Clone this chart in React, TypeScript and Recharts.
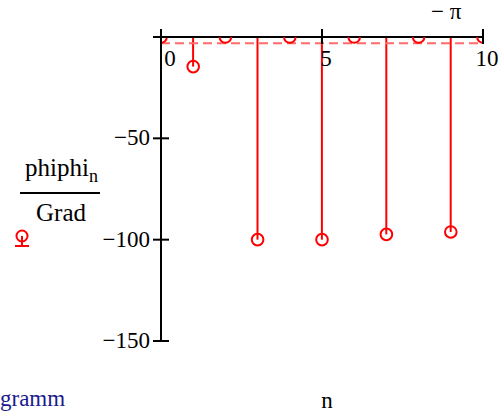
import {
  ComposedChart,
  Bar,
  Scatter,
  XAxis,
  YAxis,
  ReferenceLine,
} from "recharts";

const nValues = [0, 1, 2, 3, 4, 5, 6, 7, 8, 9, 10];
const phiDeg = [0, -14.6, 0, -100, 0, -100, 0, -97.4, 0, -96.2, 0];
const xTicks = [0, 5, 10];
const yTicks = [-150, -100, -50, 0];
const refValue = -Math.PI;
const refLabel = "− π";

const data = nValues.map((n, i) => ({ n, phi: phiDeg[i] }));

const RED = "#ff0000";
const FONT = "'Liberation Serif', 'Times New Roman', serif";
const FS = 23;

function XTick(props: any) {
  const { x, y, payload } = props;
  const dx = payload.value === 0 ? 9 : 4;
  return (
    <g>
      <line x1={x} x2={x} y1={y - 8} y2={y + 7} stroke="#000" strokeWidth={2} />
      <text x={x + dx} y={y + 29} textAnchor="middle" fontFamily={FONT} fontSize={FS} fill="#000">
        {payload.value}
      </text>
    </g>
  );
}

function YTick(props: any) {
  const { x, y, payload } = props;
  return (
    <g>
      <line x1={x - 8} x2={x + 8} y1={y} y2={y} stroke="#000" strokeWidth={2} />
      {payload.value !== 0 && (
        <text x={x - 11} y={y + 7} textAnchor="end" fontFamily={FONT} fontSize={FS} fill="#000">
          {"−" + Math.abs(payload.value)}
        </text>
      )}
    </g>
  );
}

function StemHead(props: any) {
  const { cx, cy } = props;
  return <circle cx={cx} cy={cy} r={5.8} fill="none" stroke={RED} strokeWidth={2} />;
}

export default function App() {
  return (
    <div style={{ position: "absolute", left: 0, top: 0, width: 504, height: 417, background: "#fff" }}>
      <ComposedChart
        width={504}
        height={417}
        data={data}
        margin={{ top: 36, right: 21, bottom: 76, left: 160 }}
      >
        <XAxis
          dataKey="n"
          type="number"
          orientation="top"
          domain={[0, 10]}
          ticks={xTicks}
          interval={0}
          height={1}
          tickSize={0}
          tickMargin={0}
          allowDataOverflow
          axisLine={{ stroke: "#000", strokeWidth: 2 }}
          tickLine={false}
          tick={<XTick />}
        />
        <YAxis
          type="number"
          domain={[-150, 0]}
          ticks={yTicks}
          interval={0}
          width={1}
          tickSize={0}
          tickMargin={0}
          allowDataOverflow
          axisLine={{ stroke: "#000", strokeWidth: 2 }}
          tickLine={false}
          tick={<YTick />}
        />
        <ReferenceLine
          y={refValue}
          stroke="#ff6b6b"
          strokeWidth={2}
          strokeDasharray="9 5"
          label={(p: any) => (
            <text
              x={p.viewBox.x + p.viewBox.width - 52}
              y={p.viewBox.y - 24}
              fontFamily={FONT}
              fontSize={FS}
              fill="#000"
            >
              {refLabel}
            </text>
          )}
        />
        <Bar dataKey="phi" barSize={2} fill={RED} isAnimationActive={false} />
        <Scatter dataKey="phi" shape={<StemHead />} isAnimationActive={false} />
      </ComposedChart>
      <svg
        width={504}
        height={417}
        style={{ position: "absolute", left: 0, top: 0, pointerEvents: "none" }}
      >
        <text x={25} y={176} fontFamily={FONT} fontSize={25} fill="#000">
          phiphi
          <tspan fontSize={18} dy={6}>n</tspan>
        </text>
        <line x1={20} x2={100} y1={193} y2={193} stroke="#000" strokeWidth={2} />
        <text x={61} y={221} textAnchor="middle" fontFamily={FONT} fontSize={25} fill="#000">
          Grad
        </text>
        <circle cx={22} cy={236} r={5.5} fill="none" stroke={RED} strokeWidth={2} />
        <line x1={22} x2={22} y1={236} y2={246} stroke={RED} strokeWidth={2} />
        <line x1={15} x2={29} y1={246} y2={246} stroke={RED} strokeWidth={2} />
        <text x={0} y={406} fontFamily={FONT} fontSize={FS} fill="#1a1a8c">
          gramm
        </text>
        <text x={327} y={408} textAnchor="middle" fontFamily={FONT} fontSize={FS} fill="#000">
          n
        </text>
      </svg>
    </div>
  );
}
